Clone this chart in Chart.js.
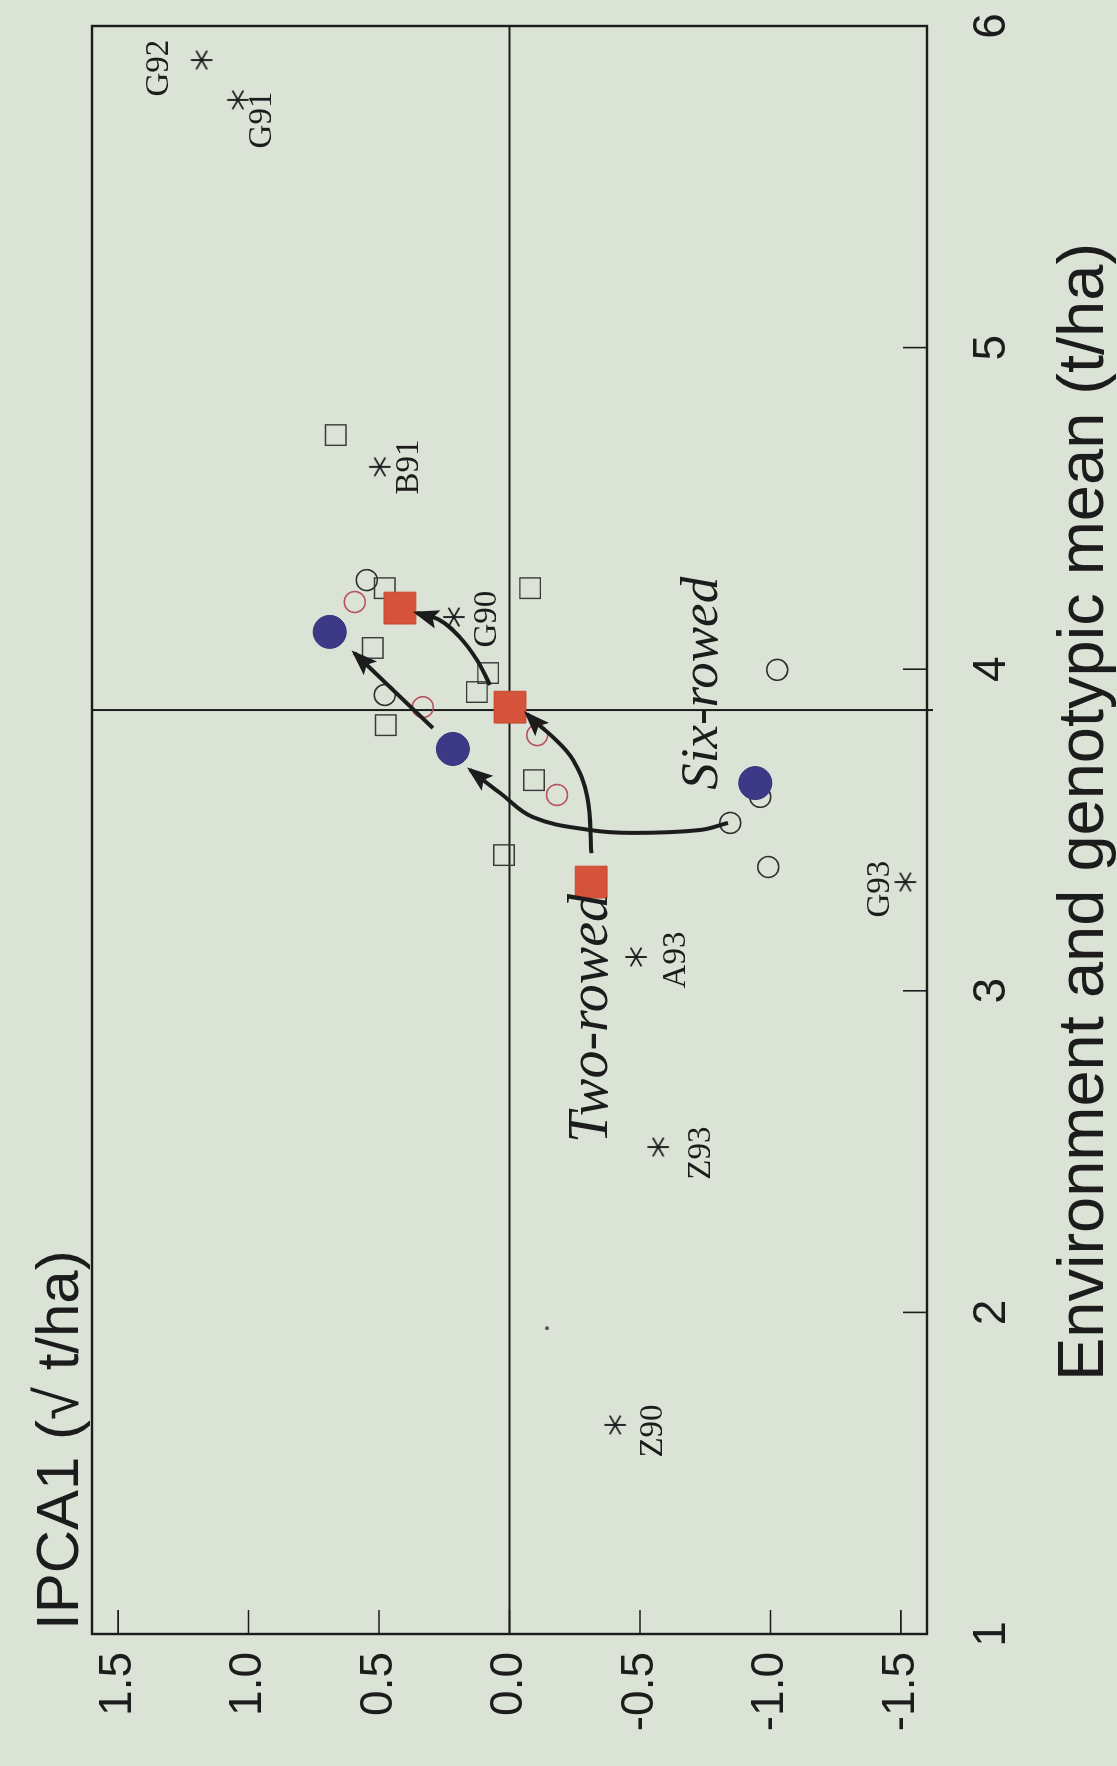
<!DOCTYPE html>
<html>
<head>
<meta charset="utf-8">
<script src="https://cdn.jsdelivr.net/npm/chart.js@4.4.1/dist/chart.umd.min.js"></script>
<style>
  html, body { margin: 0; padding: 0; background: #dbe2d6; overflow: hidden; }
  /* The biplot is laid out landscape and turned a quarter turn for the portrait page */
  #wrap {
    position: absolute; left: 0; top: 0;
    width: 1766px; height: 1117px;
    transform-origin: 0 0;
    transform: translate(0, 1766px) rotate(-90deg);
  }
  canvas { display: block; }
</style>
</head>
<body>
<div id="wrap"><canvas id="c" width="1766" height="1117"></canvas></div>
<script>
// ---- Environments (asterisks) ----
const envNames = ['G92', 'G91', 'B91', 'G90', 'A93', 'G93', 'Z93', 'Z90'];
const envMean  = [5.894, 5.770, 4.629, 4.162, 3.105, 3.338, 2.514, 1.650];
const envIPCA  = [1.180, 1.041, 0.497, 0.213, -0.485, -1.517, -0.570, -0.405];

// ---- Genotypes ----
const squareMean = [4.728, 4.252, 4.252, 4.066, 3.988, 3.929, 3.826, 3.655, 3.422];
const squareIPCA = [0.666, 0.478, -0.079, 0.524, 0.082, 0.125, 0.474, -0.094, 0.021];
const circleMean = [4.277, 3.998, 3.920, 3.603, 3.522, 3.385];
const circleIPCA = [0.547, -1.026, 0.478, -0.961, -0.846, -0.992];
const redCircleMean = [4.209, 3.882, 3.795, 3.609];
const redCircleIPCA = [0.593, 0.332, -0.106, -0.182];
const strayMean = [1.951];
const strayIPCA = [-0.144];

// ---- Group means: two-rowed and six-rowed ----
const twoRowMean = [3.338, 3.882, 4.190];
const twoRowIPCA = [-0.313, -0.002, 0.420];
const sixRowMean = [3.646, 3.752, 4.116];
const sixRowIPCA = [-0.942, 0.217, 0.689];

// ---- Shift paths between group means ----
const twoShiftAMean = [3.428, 3.603, 3.718, 3.789, 3.842, 3.861];
const twoShiftAIPCA = [-0.314, -0.298, -0.243, -0.166, -0.089, -0.066];
const twoShiftBMean = [3.951, 4.029, 4.100, 4.153, 4.175];
const twoShiftBIPCA = [0.075, 0.125, 0.191, 0.268, 0.356];
const sixShiftAMean = [3.522, 3.500, 3.491, 3.500, 3.540, 3.615, 3.687];
const sixShiftAIPCA = [-0.837, -0.730, -0.473, -0.308, -0.090, 0.036, 0.151];
const sixShiftBMean = [3.817, 4.050];
const sixShiftBIPCA = [0.294, 0.594];

// ---- Axes ----
const xMin = 1, xMax = 6, xStep = 1;
const yMin = -1.6, yMax = 1.6, yStep = 0.5;
const grandMean = 3.873;

const INK = '#1c1c1c';
const BG = '#dbe2d6';
const SANS = "'Liberation Sans', Arial, sans-serif";
const SERIF = "'Liberation Serif', 'Times New Roman', serif";

const pts = (xs, ys) => xs.map((x, i) => ({ x: x, y: ys[i] }));

function asterisk() {
  const c = document.createElement('canvas');
  c.width = 26; c.height = 26;
  const g = c.getContext('2d');
  g.strokeStyle = INK; g.lineWidth = 1.9; g.lineCap = 'round';
  const r = 10;
  for (let k = 0; k < 3; k++) {
    const a = Math.PI / 2 + k * Math.PI / 3;
    g.beginPath();
    g.moveTo(13 + r * Math.cos(a), 13 + r * Math.sin(a));
    g.lineTo(13 - r * Math.cos(a), 13 - r * Math.sin(a));
    g.stroke();
  }
  return c;
}

const arrowStyle = {
  showLine: true, isArrow: true, borderColor: INK, borderWidth: 4,
  pointRadius: 0, tension: 0.4, fill: false
};

// Label placement around each asterisk (dx, dy in px)
const envLabelOffset = {
  G92: [-8, -42], G91: [-20, 24], B91: [0, 30], G90: [-2, 33],
  A93: [-3, 40], G93: [-7, -25], Z93: [-6, 43], Z90: [-6, 38]
};

const backdrop = {
  id: 'backdrop',
  beforeDraw(chart) {
    const ctx = chart.ctx;
    ctx.save();
    ctx.fillStyle = BG;
    ctx.fillRect(0, 0, chart.width, chart.height);
    ctx.restore();
  },
  beforeDatasetsDraw(chart) {
    const { ctx, chartArea: a, scales: { x, y } } = chart;
    ctx.save();
    ctx.strokeStyle = INK;
    // reference lines
    ctx.lineWidth = 2;
    const gx = x.getPixelForValue(grandMean);
    const y0 = y.getPixelForValue(0);
    ctx.beginPath();
    ctx.moveTo(gx, a.top); ctx.lineTo(gx, a.bottom + 6);
    ctx.moveTo(a.left, y0); ctx.lineTo(a.right, y0);
    ctx.stroke();
    // inward tick marks
    ctx.lineWidth = 1.6;
    ctx.beginPath();
    x.ticks.forEach(t => {
      const px = x.getPixelForValue(t.value);
      ctx.moveTo(px, a.bottom); ctx.lineTo(px, a.bottom - 24);
    });
    y.ticks.forEach(t => {
      const py = y.getPixelForValue(t.value);
      ctx.moveTo(a.left, py); ctx.lineTo(a.left + 24, py);
    });
    ctx.stroke();
    // frame
    ctx.lineWidth = 2.4;
    ctx.strokeRect(a.left, a.top, a.right - a.left, a.bottom - a.top);
    ctx.restore();
  },
  afterDatasetsDraw(chart) {
    const ctx = chart.ctx;
    ctx.save();
    // arrowheads
    chart.data.datasets.forEach((ds, i) => {
      if (!ds.isArrow) return;
      const p = chart.getDatasetMeta(i).data;
      const tip = p[p.length - 1];
      let fx = tip.cp1x, fy = tip.cp1y;
      if (fx === undefined || Math.hypot(fx - tip.x, fy - tip.y) < 1) {
        fx = p[p.length - 2].x; fy = p[p.length - 2].y;
      }
      const ang = Math.atan2(tip.y - fy, tip.x - fx);
      const len = 26, half = 9.5;
      const tx = tip.x + 4 * Math.cos(ang), ty = tip.y + 4 * Math.sin(ang);
      ctx.fillStyle = INK;
      ctx.beginPath();
      ctx.moveTo(tx, ty);
      ctx.lineTo(tx - len * Math.cos(ang) + half * Math.sin(ang), ty - len * Math.sin(ang) - half * Math.cos(ang));
      ctx.lineTo(tx - len * 0.8 * Math.cos(ang), ty - len * 0.8 * Math.sin(ang));
      ctx.lineTo(tx - len * Math.cos(ang) - half * Math.sin(ang), ty - len * Math.sin(ang) + half * Math.cos(ang));
      ctx.closePath();
      ctx.fill();
    });
    // environment labels
    const { x, y } = chart.scales;
    ctx.fillStyle = INK;
    ctx.font = `33px ${SERIF}`;
    ctx.textAlign = 'center';
    ctx.textBaseline = 'middle';
    envNames.forEach((n, i) => {
      const o = envLabelOffset[n];
      ctx.fillText(n, x.getPixelForValue(envMean[i]) + o[0], y.getPixelForValue(envIPCA[i]) + o[1]);
    });
    // group captions
    ctx.textAlign = 'left';
    ctx.textBaseline = 'alphabetic';
    ctx.font = `italic 56px ${SERIF}`;
    ctx.fillText('Two-rowed', x.getPixelForValue(2.527), y.getPixelForValue(-0.374));
    ctx.font = `italic 53px ${SERIF}`;
    ctx.fillText('Six-rowed', x.getPixelForValue(3.625), y.getPixelForValue(-0.797));
    ctx.restore();
  },
  afterDraw(chart) {
    const { ctx, chartArea: a } = chart;
    ctx.save();
    ctx.fillStyle = INK;
    ctx.textBaseline = 'alphabetic';
    ctx.font = `60px ${SANS}`;
    ctx.textAlign = 'left';
    ctx.fillText('IPCA1 (\u221A t/ha)', a.left + 4, 78);
    ctx.font = `65px ${SANS}`;
    ctx.textAlign = 'center';
    ctx.fillText('Environment and genotypic mean (t/ha)', (a.left + a.right) / 2 + 18, 1103);
    ctx.restore();
  }
};

new Chart(document.getElementById('c'), {
  type: 'scatter',
  data: {
    datasets: [
      { label: 'Two-rowed mean', data: pts(twoRowMean, twoRowIPCA), pointStyle: 'rect',
        pointRadius: 22.5, backgroundColor: '#d4533a', borderColor: '#c9482f', borderWidth: 1 },
      { label: 'Six-rowed mean', data: pts(sixRowMean, sixRowIPCA), pointStyle: 'circle',
        pointRadius: 16.5, backgroundColor: '#3c3a86', borderColor: '#34337a', borderWidth: 1 },
      Object.assign({ label: 'two A', data: pts(twoShiftAMean, twoShiftAIPCA) }, arrowStyle),
      Object.assign({ label: 'two B', data: pts(twoShiftBMean, twoShiftBIPCA) }, arrowStyle),
      Object.assign({ label: 'six A', data: pts(sixShiftAMean, sixShiftAIPCA) }, arrowStyle),
      Object.assign({ label: 'six B', data: pts(sixShiftBMean, sixShiftBIPCA) }, arrowStyle),
      { label: 'Environments', data: pts(envMean, envIPCA), pointStyle: asterisk(), pointRadius: 13 },
      { label: 'Genotypes (squares)', data: pts(squareMean, squareIPCA), pointStyle: 'rect',
        pointRadius: 14.5, backgroundColor: 'rgba(0,0,0,0)', borderColor: '#3a3a3a', borderWidth: 1.4 },
      { label: 'Genotypes (circles)', data: pts(circleMean, circleIPCA), pointStyle: 'circle',
        pointRadius: 10.5, backgroundColor: 'rgba(0,0,0,0)', borderColor: '#2e2e2e', borderWidth: 1.5 },
      { label: 'Genotypes (red circles)', data: pts(redCircleMean, redCircleIPCA), pointStyle: 'circle',
        pointRadius: 10.5, backgroundColor: 'rgba(0,0,0,0)', borderColor: '#b9505f', borderWidth: 1.5 },
      { label: 'stray', data: pts(strayMean, strayIPCA), pointStyle: 'circle',
        pointRadius: 2, backgroundColor: '#555', borderWidth: 0 }
    ]
  },
  options: {
    responsive: false,
    animation: false,
    events: [],
    layout: { padding: { top: 92, right: 26, left: 0, bottom: 0 } },
    plugins: { legend: { display: false }, tooltip: { enabled: false } },
    scales: {
      x: {
        type: 'linear', position: 'bottom', min: xMin, max: xMax,
        grid: { display: false, drawTicks: true, tickLength: 34 }, border: { display: false },
        ticks: { stepSize: xStep, color: INK, padding: 4, font: { family: SANS, size: 46 } },
        afterFit(s) { s.height = 190; }
      },
      y: {
        type: 'linear', position: 'left', min: yMin, max: yMax,
        grid: { display: false, drawTicks: false }, border: { display: false },
        ticks: { stepSize: yStep, includeBounds: false, color: INK, padding: 18,
                 font: { family: SANS, size: 46 }, callback: v => v.toFixed(1) },
        afterFit(s) { s.width = 132; }
      }
    }
  },
  plugins: [backdrop]
});
</script>
</body>
</html>
